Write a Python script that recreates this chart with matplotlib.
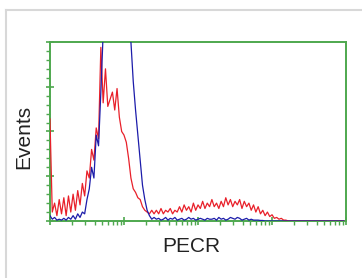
import numpy as np
import matplotlib
matplotlib.use("Agg")
import matplotlib.pyplot as plt
from matplotlib.ticker import FixedLocator, NullFormatter

# 128 log channels over 4 decades; counts per channel
n_channels = 128
decades = 4

red_counts = [57, 5, 10, 3, 12, 4, 13, 3, 14, 5,
              15, 6, 17, 9, 21, 14, 28, 24, 40, 34,
              52, 46, 97, 66, 85, 64, 68, 72, 62, 74,
              58, 50, 48, 44, 35, 24, 18, 16, 13, 12,
              8, 6, 5, 4, 6, 4, 6, 4, 7, 4,
              6, 5, 7, 4, 6, 5, 8, 5, 9, 6,
              8, 5, 10, 6, 9, 7, 11, 7, 10, 8,
              12, 8, 10, 7, 11, 8, 13, 9, 12, 8,
              11, 9, 12, 7, 11, 8, 10, 6, 9, 5,
              8, 4, 6, 3, 5, 2.5, 3.5, 1.5, 2, 1,
              1.5, 0.5, 0.5, 0]
blue_counts = [3, 1, 2, 0.5, 1, 0.5, 1.5, 0.5, 2, 1,
               3, 1, 4, 2, 5, 4, 12, 18, 30, 24,
               48, 42, 72, 105, 130, 145, 150, 155, 150, 148,
               145, 140, 130, 120, 115, 100, 78, 62, 48, 34,
               20, 12, 6, 3, 1, 2, 1, 1.5, 0.5, 1,
               2, 0.5, 1.5, 1, 2, 0.5, 1, 1.5, 0.5, 1,
               2, 1, 1.5, 0.5, 1, 1.5, 1, 0.5, 1.5, 1,
               1, 1.5, 0.5, 2, 1, 1.5, 0.5, 1, 2, 1.5,
               1, 2, 1.5, 0.5, 1, 1.5, 0.5, 1, 0.5, 0.5,
               0.5, 0.3, 0.3, 0, 0, 0]

red = np.zeros(n_channels)
red[:len(red_counts)] = red_counts
blue = np.zeros(n_channels)
blue[:len(blue_counts)] = blue_counts
channels = np.arange(n_channels)
fluor = 10 ** (channels * decades / n_channels)

green = "#4ea84e"

fig = plt.figure(figsize=(3.62, 2.78), dpi=100)
ax = fig.add_axes([0.138, 0.205, 0.818, 0.644])

ax.plot(fluor, red, color="#e8202a", lw=0.9, zorder=3)
ax.plot(fluor, blue, color="#1c1caa", lw=0.9, zorder=3)

ax.set_xscale("log")
ax.set_xlim(1, 10 ** decades)
ax.set_ylim(0, 100)

for s in ax.spines.values():
    s.set_color(green)
    s.set_linewidth(1.4)

ax.xaxis.set_major_locator(FixedLocator([1, 10, 100, 1000, 10000]))
ax.xaxis.set_minor_locator(FixedLocator([m * 10 ** d for d in range(4) for m in range(2, 10)]))
ax.yaxis.set_major_locator(FixedLocator([0, 25, 50, 75, 100]))
ax.yaxis.set_minor_locator(FixedLocator(np.arange(0, 101, 5)))
ax.xaxis.set_major_formatter(NullFormatter())
ax.xaxis.set_minor_formatter(NullFormatter())
ax.yaxis.set_major_formatter(NullFormatter())
ax.tick_params(which="major", direction="inout", length=6, width=1.2, color=green)
ax.tick_params(which="minor", direction="out", length=3, width=1, color=green)

fig.text(24 / 362, 1 - 137 / 278, "Events", rotation=90, fontsize=15,
         family="Liberation Sans", color="#222222", ha="center", va="center")
fig.text(191 / 362, 1 - 246 / 278, "PECR", fontsize=15,
         family="Liberation Sans", color="#222222", ha="center", va="center")

# light grey panel frame
fig.add_artist(plt.Line2D([6 / 362, 6 / 362], [0, 1 - 10 / 278], color="#d8d8d8", lw=1.5))
fig.add_artist(plt.Line2D([6 / 362, 1], [1 - 10 / 278, 1 - 10 / 278], color="#d8d8d8", lw=1.5))

fig.savefig("out.png", dpi=100)
